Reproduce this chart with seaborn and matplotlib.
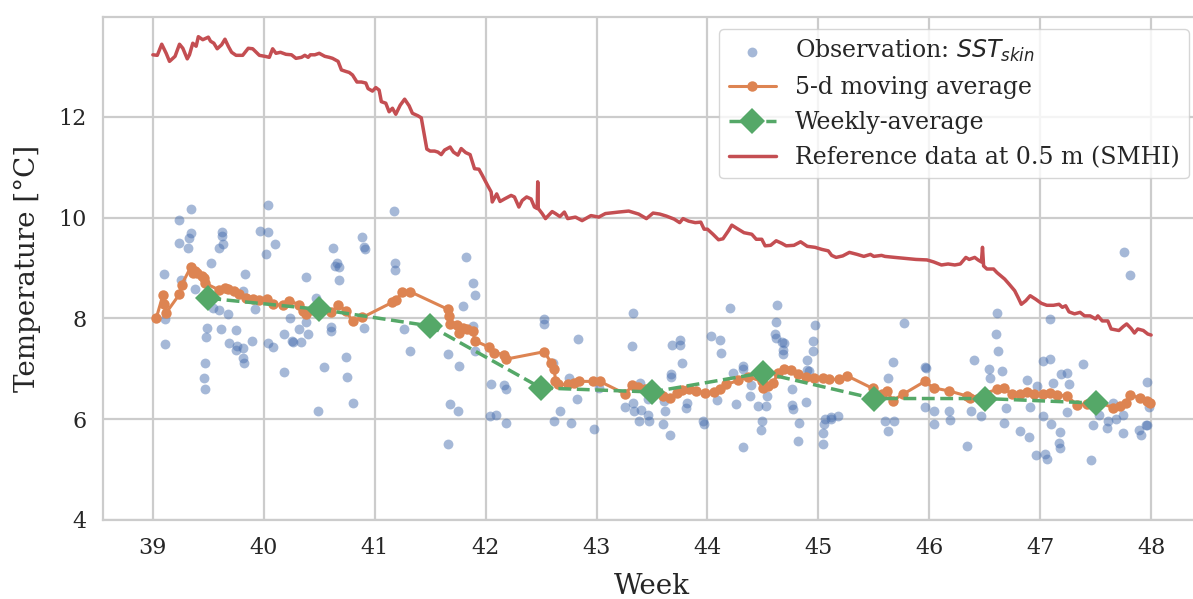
import numpy as np
import pandas as pd
import matplotlib.pyplot as plt
import seaborn as sns

# observations: SST skin (week, degC)
obs_week = [39.34, 39.24, 39.34, 39.33, 39.24, 39.32, 39.62, 39.62, 39.63, 39.60,
            40.04, 39.97, 40.04, 40.10, 40.02, 41.17, 40.89, 40.90, 40.91, 40.62,
            40.66, 40.64, 40.68, 40.68, 40.38, 41.18, 41.18, 39.52, 39.10, 39.83,
            39.25, 39.38, 39.81, 39.92, 39.60, 39.68, 39.54, 39.11, 40.24, 40.47,
            40.38, 40.90, 40.61, 40.61, 39.49, 39.48, 39.61, 39.75, 39.11, 39.69,
            39.76, 39.75, 39.81, 39.81, 39.82, 39.89, 40.04, 40.08, 40.18, 40.25,
            40.26, 40.32, 40.34, 40.40, 39.47, 39.46, 39.47, 40.18, 40.54, 40.74,
            40.75, 40.80, 40.49,
            41.82, 41.89, 41.90, 41.80, 41.89, 41.26, 41.32, 41.66, 41.76, 41.90,
            42.05, 42.17, 42.18, 41.68, 41.75, 42.04, 42.09, 42.18, 41.66, 42.53,
            42.53, 42.61, 42.75, 42.83, 42.82, 42.67, 42.62, 42.77, 42.98, 43.02,
            43.33, 43.32, 43.39, 43.26, 43.33, 43.34, 43.40, 43.38, 43.46, 43.46,
            43.47,
            44.20, 44.03, 44.11, 44.12, 43.68, 43.75, 43.75, 43.77, 43.67, 43.67,
            44.63, 44.62, 44.61, 44.62, 44.67, 44.69, 44.68, 44.68, 44.97, 44.95,
            44.95, 44.90, 44.90, 44.92, 44.32, 44.32, 44.23, 44.39, 44.38, 44.26,
            44.46, 44.53, 44.54, 44.49, 44.48, 44.76, 44.76, 44.77, 44.89, 44.83,
            44.82, 45.05, 45.04, 45.04, 45.06, 45.11, 45.11, 45.18, 44.09, 43.96,
            43.97, 43.82, 43.81, 43.61, 43.62, 43.60, 43.66, 44.32, 45.67, 45.63,
            45.60, 45.68,
            45.77, 45.63, 45.96, 45.97, 45.96, 46.04, 46.04, 46.18, 46.19, 46.34,
            46.40, 46.38, 46.47, 46.61, 46.60, 46.62, 46.54, 46.55, 46.66, 46.69,
            46.67, 46.82, 46.90, 46.88, 46.97, 46.91, 47.03, 47.09, 47.09, 47.12,
            47.19, 47.24, 47.26, 47.03, 47.10, 47.18, 47.17, 47.18, 46.96, 47.04,
            47.06, 47.24, 47.39, 47.46, 47.48, 47.53, 47.60, 47.61, 47.68, 47.75,
            47.75, 47.66, 47.76, 47.81, 47.96, 47.98, 47.89, 47.91, 47.95, 47.96]
obs_temp = [10.17, 9.95, 9.70, 9.59, 9.49, 9.40, 9.72, 9.64, 9.48, 9.40,
            10.25, 9.74, 9.72, 9.47, 9.28, 10.13, 9.62, 9.42, 9.37, 9.40,
            9.09, 9.04, 9.02, 8.77, 8.83, 9.09, 8.97, 9.09, 8.89, 8.89,
            8.77, 8.58, 8.54, 8.18, 8.16, 8.08, 8.21, 7.98, 8.00, 8.41,
            7.93, 7.81, 7.83, 7.75, 7.81, 7.63, 7.78, 7.76, 7.50, 7.52,
            7.45, 7.38, 7.42, 7.22, 7.11, 7.56, 7.52, 7.43, 7.70, 7.55,
            7.53, 7.78, 7.53, 7.70, 7.12, 6.82, 6.59, 6.94, 7.04, 7.24,
            6.84, 6.32, 6.17,
            9.21, 8.71, 8.46, 8.25, 7.85, 7.78, 7.36, 7.30, 7.05, 7.35,
            6.70, 6.68, 6.60, 6.30, 6.16, 6.06, 6.09, 5.93, 5.51, 7.98,
            7.89, 7.12, 6.81, 7.60, 6.41, 6.17, 5.97, 5.93, 5.81, 6.62,
            8.11, 7.45, 6.72, 6.25, 6.32, 6.17, 6.19, 5.97, 6.41, 6.09,
            5.96,
            8.20, 7.65, 7.58, 7.32, 7.47, 7.57, 7.48, 7.12, 6.89, 6.83,
            8.26, 7.93, 7.70, 7.62, 7.54, 7.52, 7.38, 7.30, 7.87, 7.56,
            7.35, 7.17, 6.97, 6.95, 7.05, 6.99, 6.91, 6.68, 6.46, 6.31,
            6.27, 6.27, 6.46, 5.96, 5.79, 6.59, 6.28, 6.21, 6.34, 5.93,
            5.56, 5.91, 5.73, 5.51, 6.01, 6.04, 6.01, 6.06, 6.39, 5.97,
            5.91, 6.32, 6.23, 6.36, 6.17, 5.91, 5.68, 5.45, 7.13, 6.82,
            5.96, 5.96,
            7.91, 5.77, 7.03, 7.02, 6.24, 6.17, 5.91, 6.16, 5.99, 5.46,
            7.17, 6.17, 6.06, 8.11, 7.70, 7.35, 6.99, 6.81, 6.95, 6.23,
            5.93, 5.77, 5.65, 6.77, 6.66, 6.24, 7.15, 7.19, 7.98, 6.72,
            6.89, 6.92, 6.69, 6.06, 5.91, 5.74, 5.53, 5.42, 5.28, 5.30,
            5.21, 6.15, 7.09, 5.19, 5.89, 6.09, 5.83, 5.96, 6.01, 6.08,
            5.73, 6.32, 9.32, 8.86, 6.74, 6.24, 5.79, 5.68, 5.89, 5.89]

# 5-day moving average
ma_week = [39.03, 39.09, 39.10, 39.12, 39.24, 39.26, 39.34, 39.36, 39.38, 39.40,
           39.44, 39.46, 39.47, 39.60, 39.65, 39.68, 39.73, 39.78, 39.84, 39.90,
           39.96, 40.03, 40.08, 40.17, 40.23, 40.32, 40.35, 40.38, 40.61, 40.67,
           40.74, 40.80, 40.89, 41.16, 41.19, 41.25, 41.32, 41.66, 41.67, 41.68,
           41.74, 41.76, 41.80, 41.83, 41.89, 41.90, 42.03, 42.08, 42.17, 42.18,
           42.53, 42.59, 42.62, 42.63, 42.65, 42.74, 42.80, 42.84, 42.97, 43.03,
           43.26, 43.32, 43.37, 43.44, 43.53, 43.60, 43.66, 43.73, 43.77, 43.83,
           43.90, 43.98, 44.06, 44.11, 44.17, 44.28, 44.37, 44.49, 44.50, 44.55,
           44.59, 44.64, 44.69, 44.75, 44.82, 44.89, 44.96, 45.04, 45.10, 45.19,
           45.26, 45.49, 45.57, 45.62, 45.67, 45.76, 45.96, 46.04, 46.18, 46.34,
           46.37, 46.61, 46.67, 46.75, 46.82, 46.88, 46.94, 47.03, 47.09, 47.15,
           47.24, 47.33, 47.42, 47.54, 47.66, 47.72, 47.77, 47.81, 47.90, 47.96,
           47.99]
ma_temp = [8.00, 8.46, 8.28, 8.11, 8.48, 8.67, 9.01, 8.90, 8.95, 8.91,
           8.84, 8.80, 8.70, 8.56, 8.60, 8.59, 8.54, 8.48, 8.41, 8.39,
           8.37, 8.39, 8.28, 8.26, 8.35, 8.27, 8.15, 8.08, 8.12, 8.27,
           8.15, 7.95, 8.02, 8.32, 8.36, 8.52, 8.53, 8.18, 8.05, 7.88,
           7.87, 7.72, 7.80, 7.78, 7.75, 7.56, 7.43, 7.32, 7.28, 7.19,
           7.34, 7.12, 6.99, 6.75, 6.69, 6.69, 6.72, 6.75, 6.75, 6.75,
           6.50, 6.67, 6.64, 6.60, 6.52, 6.46, 6.42, 6.52, 6.58, 6.59,
           6.56, 6.52, 6.53, 6.59, 6.69, 6.77, 6.84, 6.75, 6.62, 6.66,
           6.72, 6.92, 7.00, 6.97, 6.89, 6.84, 6.82, 6.81, 6.79, 6.79,
           6.86, 6.61, 6.49, 6.55, 6.37, 6.49, 6.75, 6.62, 6.56, 6.46,
           6.42, 6.59, 6.61, 6.50, 6.50, 6.54, 6.49, 6.50, 6.52, 6.48,
           6.46, 6.29, 6.30, 6.32, 6.23, 6.26, 6.32, 6.48, 6.42, 6.36,
           6.32]

# weekly average
wk_week = [39.5, 40.5, 41.5, 42.5, 43.5, 44.5, 45.5, 46.5, 47.5]
wk_temp = [8.40, 8.18, 7.85, 6.62, 6.54, 6.92, 6.41, 6.41, 6.32]

# SMHI reference at 0.5 m
ref_week = [39.00, 39.04, 39.08, 39.12, 39.15, 39.20, 39.24, 39.27, 39.31, 39.33,
            39.36, 39.39, 39.41, 39.45, 39.50, 39.52, 39.55, 39.58, 39.62, 39.65,
            39.68, 39.71, 39.75, 39.81, 39.86, 39.90, 39.96, 40.01, 40.05, 40.08,
            40.11, 40.15, 40.20, 40.25, 40.29, 40.34, 40.37, 40.40, 40.42, 40.46,
            40.50, 40.55, 40.59, 40.62, 40.67, 40.70, 40.74, 40.77, 40.80, 40.84,
            40.88, 40.92, 40.94, 40.98, 41.01, 41.04, 41.06, 41.10, 41.13, 41.16,
            41.19, 41.23, 41.27, 41.31, 41.34, 41.39, 41.42, 41.47, 41.50, 41.54,
            41.57, 41.60, 41.63, 41.68, 41.71, 41.75, 41.78, 41.82, 41.86, 41.90,
            41.94, 41.97, 42.02, 42.05, 42.06, 42.10, 42.13, 42.17, 42.23, 42.26,
            42.30, 42.33, 42.37, 42.41, 42.44, 42.465, 42.47, 42.475, 42.51, 42.54,
            42.60, 42.63, 42.67, 42.71, 42.74, 42.81, 42.87, 42.95, 43.02, 43.08,
            43.20, 43.29, 43.38, 43.45, 43.51, 43.57, 43.63, 43.70, 43.75, 43.78,
            43.83, 43.89, 43.94, 43.97, 44.00, 44.05, 44.10, 44.14, 44.19, 44.22,
            44.27, 44.33, 44.40, 44.44, 44.49, 44.52, 44.57, 44.62, 44.67, 44.71,
            44.78, 44.84, 44.90, 44.97, 45.03, 45.09, 45.12, 45.16, 45.22, 45.28,
            45.35, 45.41, 45.47, 45.50, 45.57, 45.60, 45.69, 45.79, 45.88, 45.98,
            46.04, 46.11, 46.17, 46.23, 46.28, 46.33, 46.36, 46.41, 46.44, 46.47,
            46.48, 46.49, 46.52, 46.58, 46.61, 46.68, 46.72, 46.77, 46.80, 46.83,
            46.87, 46.91, 46.96, 47.01, 47.06, 47.12, 47.17, 47.20, 47.23, 47.26,
            47.31, 47.36, 47.40, 47.45, 47.50, 47.52, 47.56, 47.61, 47.64, 47.71,
            47.75, 47.78, 47.82, 47.85, 47.88, 47.93, 47.97, 48.00]
ref_temp = [13.23, 13.22, 13.44, 13.26, 13.10, 13.20, 13.44, 13.36, 13.15, 13.23,
            13.46, 13.40, 13.59, 13.53, 13.58, 13.50, 13.46, 13.35, 13.43, 13.54,
            13.40, 13.28, 13.22, 13.22, 13.36, 13.35, 13.22, 13.20, 13.18, 13.35,
            13.26, 13.28, 13.24, 13.23, 13.16, 13.18, 13.22, 13.18, 13.23, 13.23,
            13.26, 13.20, 13.18, 13.16, 13.10, 12.93, 12.90, 12.88, 12.83, 12.69,
            12.69, 12.67, 12.56, 12.51, 12.58, 12.53, 12.30, 12.27, 12.10, 12.17,
            12.05, 12.23, 12.35, 12.22, 12.07, 12.02, 11.98, 11.36, 11.32, 11.32,
            11.30, 11.25, 11.34, 11.40, 11.30, 11.24, 11.37, 11.29, 11.25, 10.97,
            10.96, 10.84, 10.63, 10.51, 10.31, 10.47, 10.32, 10.37, 10.44, 10.41,
            10.21, 10.34, 10.41, 10.37, 10.21, 10.18, 10.71, 10.18, 10.08, 9.98,
            10.12, 10.08, 10.02, 10.11, 9.98, 10.01, 9.94, 10.04, 10.01, 10.08,
            10.11, 10.13, 10.07, 9.98, 10.09, 10.07, 10.03, 9.97, 9.90, 9.98,
            9.93, 9.90, 9.91, 9.77, 9.77, 9.67, 9.56, 9.58, 9.74, 9.85,
            9.78, 9.70, 9.67, 9.57, 9.57, 9.44, 9.45, 9.54, 9.49, 9.44,
            9.45, 9.52, 9.43, 9.41, 9.37, 9.34, 9.25, 9.21, 9.24, 9.31,
            9.27, 9.23, 9.27, 9.23, 9.25, 9.23, 9.21, 9.19, 9.17, 9.16,
            9.12, 9.06, 9.08, 9.06, 9.08, 9.21, 9.17, 9.21, 9.16, 9.12,
            9.41, 9.04, 8.98, 8.98, 8.91, 8.78, 8.68, 8.55, 8.42, 8.28,
            8.35, 8.45, 8.38, 8.30, 8.26, 8.26, 8.28, 8.22, 8.25, 8.13,
            8.09, 8.12, 8.05, 8.05, 7.99, 8.05, 7.95, 7.95, 7.79, 7.76,
            7.84, 7.89, 7.80, 7.71, 7.79, 7.76, 7.69, 7.67]

sns.set_theme(style="whitegrid", font="serif")
plt.rcParams['font.family'] = ['DejaVu Serif']
plt.rcParams['grid.linewidth'] = 1.6
plt.rcParams['axes.linewidth'] = 1.6

pal = sns.color_palette("deep")

fig = plt.figure(figsize=(11.93, 5.99), dpi=100)
ax = fig.add_axes([0.0863, 0.1319, 0.9204, 0.8397])

sns.scatterplot(x=obs_week, y=obs_temp, ax=ax, color=pal[0], alpha=0.5, s=50,
                linewidth=0, label="Observation: $SST_{skin}$")
sns.lineplot(x=ma_week, y=ma_temp, ax=ax, color=pal[1], estimator=None, sort=False,
             marker="o", markersize=7.5, mec=pal[1], mew=0, linewidth=2.2,
             label="5-d moving average")
sns.lineplot(x=wk_week, y=wk_temp, ax=ax, color=pal[2], estimator=None, sort=False,
             marker="D", markersize=13, mec=pal[2], mew=0, linewidth=2.5,
             linestyle="--", label="Weekly-average")
sns.lineplot(x=ref_week, y=ref_temp, ax=ax, color=pal[3], estimator=None, sort=False,
             linewidth=2.5, label="Reference data at 0.5 m (SMHI)")

ax.set_xlim(38.55, 48.45)
ax.set_ylim(4, 13.98)
ax.set_xticks(range(39, 49))
ax.set_yticks([4, 6, 8, 10, 12])
ax.tick_params(axis="both", labelsize=16, length=0, pad=12)
ax.set_xlabel("Week", fontsize=20, labelpad=10)
ax.set_ylabel("Temperature [°C]", fontsize=20, labelpad=12)

ax.legend(loc="upper right", fontsize=17, labelspacing=0.5, handlelength=2.0)

fig.savefig("out.png", dpi=100)
